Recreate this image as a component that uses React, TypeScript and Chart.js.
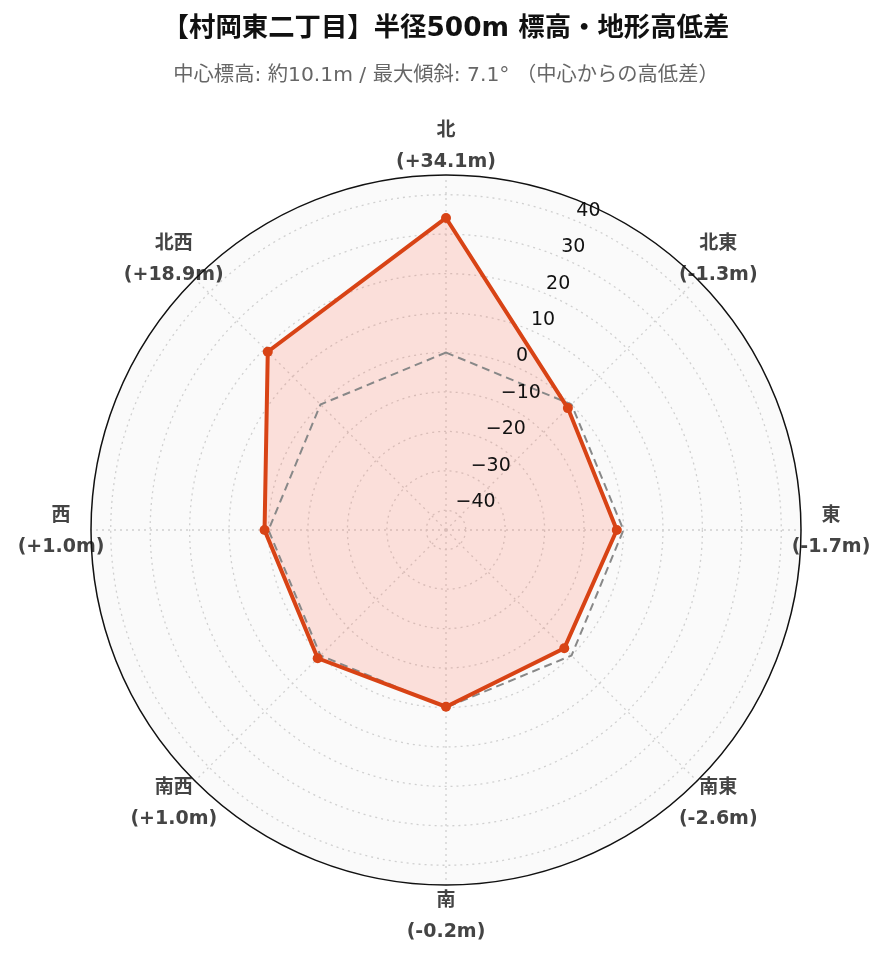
import React, { useEffect, useRef } from "react";
import { Chart, registerables } from "chart.js";

Chart.register(...registerables);

const TITLE = "【村岡東二丁目】半径500m 標高・地形高低差";
const SUBTITLE = "中心標高: 約10.1m / 最大傾斜: 7.1° （中心からの高低差）";
const DIRECTIONS = ["北", "北東", "東", "南東", "南", "南西", "西", "北西"];
const DIFFS = [34.1, -1.3, -1.7, -2.6, -0.2, 1.0, 1.0, 18.9];
const BASELINE = [0, 0, 0, 0, 0, 0, 0, 0];
const TICKS = [-40, -30, -20, -10, 0, 10, 20, 30, 40];
const R_MIN = -45;
const R_MAX = 45;

const W = 873;
const H = 946;
const FONT = "'DejaVu Sans', 'Noto Sans CJK JP', sans-serif";

const fmtDiff = (v: number) => `(${v >= 0 ? "+" : ""}${v.toFixed(1)}m)`;

const overlay = {
  id: "overlay",
  afterDatasetsDraw(chart: any) {
    const s = chart.scales.r;
    const ctx = chart.ctx;
    ctx.save();
    const ang = (22.5 * Math.PI) / 180;
    ctx.font = "19px " + FONT;
    ctx.fillStyle = "#111";
    ctx.textAlign = "left";
    ctx.textBaseline = "middle";
    TICKS.forEach((t) => {
      const d = s.getDistanceFromCenterForValue(t);
      const x = s.xCenter + d * Math.sin(ang);
      const y = s.yCenter - d * Math.cos(ang);
      ctx.fillText(t < 0 ? "\u2212" + Math.abs(t) : String(t), x + 2, y - 9.5);
    });
    ctx.restore();
  },
  afterDraw(chart: any) {
    const s = chart.scales.r;
    const ctx = chart.ctx;
    ctx.save();
    ctx.font = "bold 19px " + FONT;
    ctx.fillStyle = "#444";
    ctx.textAlign = "center";
    ctx.textBaseline = "middle";
    DIRECTIONS.forEach((name, i) => {
      const p = s.getPointPosition(i, s.drawingArea + 30);
      ctx.fillText(name, p.x, p.y - 14);
      ctx.fillText(fmtDiff(DIFFS[i]), p.x, p.y + 17);
    });
    ctx.beginPath();
    ctx.arc(s.xCenter, s.yCenter, s.drawingArea, 0, Math.PI * 2);
    ctx.strokeStyle = "#111";
    ctx.lineWidth = 1.5;
    ctx.stroke();
    ctx.restore();
  },
};

export default function App() {
  const ref = useRef<HTMLCanvasElement>(null);
  useEffect(() => {
    if (!ref.current) return;
    const chart = new Chart(ref.current, {
      type: "radar",
      data: {
        labels: DIRECTIONS,
        datasets: [
          {
            label: "高低差",
            data: DIFFS,
            borderColor: "#d84315",
            backgroundColor: "rgba(255,99,71,0.18)",
            borderWidth: 4,
            pointRadius: 5,
            pointBackgroundColor: "#d84315",
            pointBorderWidth: 0,
            fill: "start",
          },
          {
            label: "基準",
            data: BASELINE,
            borderColor: "#888",
            borderWidth: 2,
            borderDash: [8, 5],
            pointRadius: 0,
            fill: false,
          },
        ],
      },
      options: {
        responsive: false,
        animation: false,
        devicePixelRatio: 1,
        layout: { padding: { left: 83, right: 80, top: 0, bottom: 68 } },
        plugins: {
          legend: { display: false },
          tooltip: { enabled: false },
          filler: { drawTime: "beforeDatasetsDraw" },
          title: {
            display: true,
            text: TITLE,
            color: "#111",
            font: { family: FONT, size: 26.4, weight: "bold", lineHeight: 1.2 },
            padding: { top: 5, bottom: 19 },
          },
          subtitle: {
            display: true,
            text: SUBTITLE,
            color: "#666",
            font: { family: FONT, size: 20.3, lineHeight: 1.2 },
            padding: { top: 0, bottom: 87 },
          },
        },
        scales: {
          r: {
            min: R_MIN,
            max: R_MAX,
            startAngle: 0,
            backgroundColor: "#fafafa",
            afterBuildTicks: (scale: any) => {
              scale.ticks = [...TICKS, R_MAX].map((v) => ({ value: v }));
            },
            ticks: { display: false, stepSize: 10 },
            pointLabels: { display: false },
            grid: {
              circular: true,
              color: (c: any) => (c.tick && c.tick.value === R_MAX ? "rgba(0,0,0,0)" : "#d0d0d0"),
              lineWidth: 1.3,
            },
            border: { dash: [2, 4] },
            angleLines: { color: "#d0d0d0", lineWidth: 1.3, borderDash: [2, 4] },
          },
        },
      },
      plugins: [overlay],
    });
    return () => chart.destroy();
  }, []);
  return (
    <div style={{ width: W, height: H }}>
      <canvas ref={ref} width={W} height={H} style={{ width: W, height: H }} />
    </div>
  );
}
